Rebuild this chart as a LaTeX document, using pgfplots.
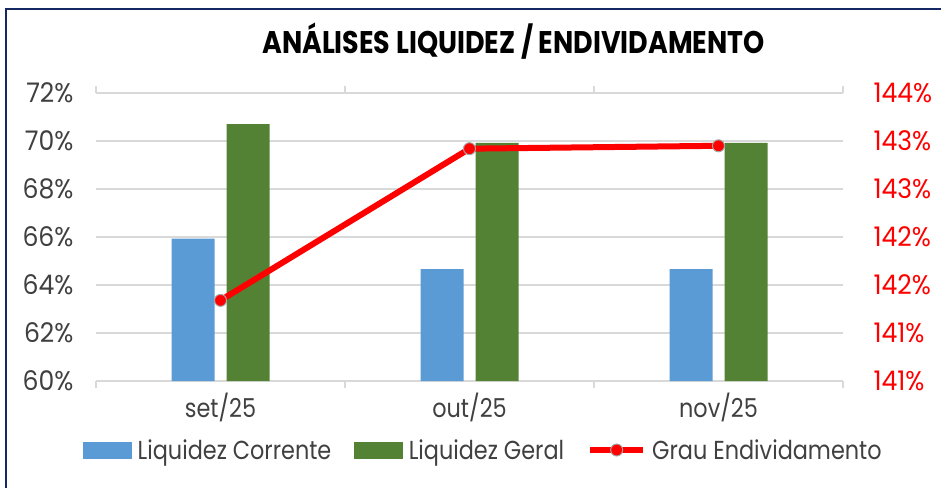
\documentclass[border=0pt]{standalone}
\usepackage{pgfplots}
\pgfplotsset{compat=1.18}
\usepackage{fontspec}
\setmainfont{Poppins}[FakeStretch=0.86]
\newfontfamily\numfont{Poppins}[FakeStretch=0.93]
\definecolor{txt}{HTML}{404040}
\definecolor{blueC}{HTML}{5B9BD5}
\definecolor{greenC}{HTML}{548235}
\definecolor{gridC}{HTML}{D9D9D9}
\definecolor{frameC}{RGB}{20,40,100}
\newcommand{\lbl}{\fontsize{26}{28}\selectfont}
\newcommand{\nlbl}{\numfont\fontsize{27}{29}\selectfont}
\begin{document}
\begin{tikzpicture}
\useasboundingbox (0pt,0pt) rectangle (941pt,487pt);
\draw[frameC, line width=2.5pt] (6pt,-10pt) -- (6pt,478pt) -- (960pt,478pt);
\node[font=\fontsize{31.3}{33}\selectfont\bfseries, text=black] at (513.5pt,446pt) {ANÁLISES LIQUIDEZ / ENDIVIDAMENTO};
\begin{axis}[at={(96pt,106pt)}, anchor=south west, width=747pt, height=288pt, scale only axis,
  xmin=-0.5, xmax=2.5, ymin=60, ymax=72, ytick={60,62,...,72},
  yticklabels={60\%,62\%,64\%,66\%,68\%,70\%,72\%},
  yticklabel style={font=\nlbl, text=txt, anchor=east, xshift=-12pt},
  ytick style={draw=none},
  xtick={-0.5,0.5,1.5,2.5}, xticklabels={},
  xtick style={draw=gridC, line width=1.2pt},
  tick align=outside, major tick length=7pt,
  extra x ticks={0,1,2}, extra x tick labels={set/25,out/25,nov/25},
  extra x tick style={major tick length=0pt, grid=none, tick style={draw=none}},
  xticklabel style={font=\lbl, text=txt, yshift=-8pt},
  axis line style={draw=none},
  ymajorgrids, grid style={gridC, line width=1.5pt},
  clip=true]
\addplot[ybar, bar width=43pt, bar shift=-27.5pt, fill=blueC, draw=none] coordinates {(0,65.93) (1,64.66) (2,64.66)};
\addplot[ybar, bar width=43pt, bar shift=27.5pt, fill=greenC, draw=none] coordinates {(0,70.7) (1,69.92) (2,69.92)};
\end{axis}
\begin{axis}[at={(96pt,106pt)}, anchor=south west, width=747pt, height=288pt, scale only axis,
  xmin=-0.5, xmax=2.5, ymin=140.75, ymax=143.75,
  hide x axis, axis y line*=right, y axis line style={draw=none},
  ytick={140.75,141.25,141.75,142.25,142.75,143.25,143.75},
  yticklabels={141\%,141\%,142\%,142\%,143\%,143\%,144\%},
  ytick style={draw=none},
  yticklabel style={font=\nlbl, text=red, anchor=west, xshift=27pt},
  clip=false,
  legend columns=3,
  legend style={at={(0.5187,-0.2396)}, anchor=center, draw=none, fill=none, font=\lbl, text=txt,
    /tikz/every odd column/.append style={column sep=4pt},
    /tikz/every even column/.append style={column sep=21pt}},
  ]
\addlegendimage{legend image code/.code={\fill[blueC] (0pt,-8pt) rectangle (48pt,8pt);}}
\addlegendentry{Liquidez Corrente}
\addlegendimage{legend image code/.code={\fill[greenC] (0pt,-8pt) rectangle (48pt,8pt);}}
\addlegendentry{Liquidez Geral}
\addlegendimage{legend image code/.code={\draw[red, line width=6pt] (0pt,0pt) -- (53pt,0pt); \filldraw[fill=red, draw=gray!70, line width=1pt] (26.5pt,0pt) circle (6pt);}}
\addlegendentry{Grau Endividamento}
\addplot[forget plot, red, line width=6pt, mark=*, mark size=6pt, mark options={fill=red, draw=gray!70, line width=1pt}]
  coordinates {(0,141.59) (1,143.17) (2,143.2)};
\end{axis}
\end{tikzpicture}
\end{document}
